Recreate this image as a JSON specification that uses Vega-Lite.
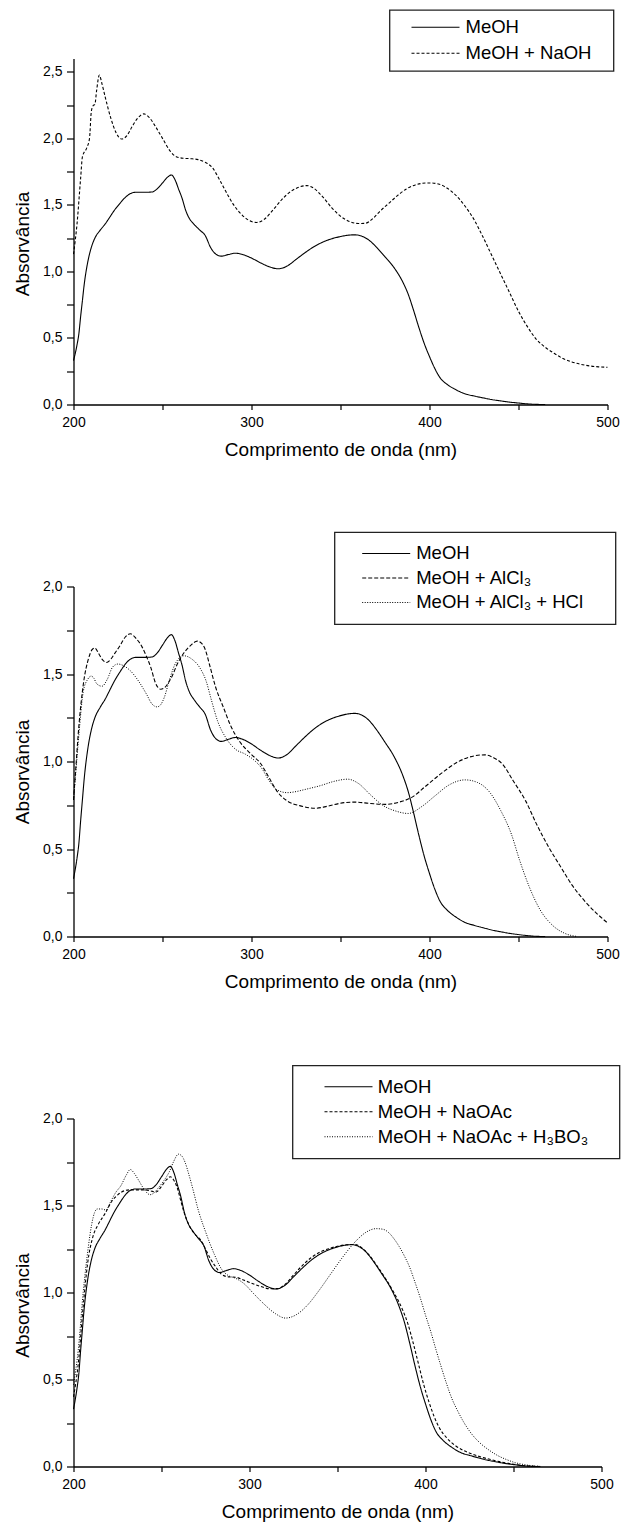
{
  "$schema": "https://vega.github.io/schema/vega-lite/v6.json",
  "background": "white",
  "padding": {"left": 13.5, "top": 8.5, "right": 2, "bottom": 2},
  "bounds": "flush",
  "spacing": 182,
  "resolve": {"scale": {"strokeDash": "independent", "x": "independent", "y": "independent"}, "legend": {"strokeDash": "independent"}},
  "config": {
    "font": "Liberation Sans",
    "view": {"stroke": null},
    "axis": {
      "domainColor": "black", "domainWidth": 1.3, "tickColor": "black", "tickWidth": 1.2,
      "labelColor": "black", "labelFont": "Liberation Sans", "labelFontSize": 14,
      "titleFont": "Liberation Sans", "titleFontSize": 19, "titleFontWeight": "normal", "titleColor": "black",
      "grid": false, "labelFlush": false, "labelOverlap": false
    },
    "legend": {
      "strokeColor": "#222", "strokeWidth": 1.3, "fillColor": "white",
      "labelFont": "Liberation Sans", "labelFontSize": 18.5, "labelColor": "black", "labelLimit": 400,
      "symbolStrokeColor": "black", "symbolStrokeWidth": 1.2, "symbolSize": 256
    },
    "line": {"color": "black", "strokeWidth": 1.1, "interpolate": "monotone"}
  },
  "datasets": {
    "meoh": [
      {"nm":200,"A":0.33,"s":"MeOH"},{"nm":202,"A":0.45,"s":"MeOH"},{"nm":203,"A":0.53,"s":"MeOH"},{"nm":204,"A":0.66,"s":"MeOH"},{"nm":205,"A":0.78,"s":"MeOH"},{"nm":206,"A":0.9,"s":"MeOH"},{"nm":208,"A":1.07,"s":"MeOH"},{"nm":210,"A":1.18,"s":"MeOH"},{"nm":212,"A":1.25,"s":"MeOH"},{"nm":215,"A":1.31,"s":"MeOH"},{"nm":218,"A":1.36,"s":"MeOH"},{"nm":220,"A":1.4,"s":"MeOH"},{"nm":223,"A":1.46,"s":"MeOH"},{"nm":226,"A":1.51,"s":"MeOH"},{"nm":229,"A":1.555,"s":"MeOH"},{"nm":232,"A":1.585,"s":"MeOH"},{"nm":235,"A":1.595,"s":"MeOH"},{"nm":240,"A":1.595,"s":"MeOH"},{"nm":244,"A":1.597,"s":"MeOH"},{"nm":247,"A":1.62,"s":"MeOH"},{"nm":250,"A":1.665,"s":"MeOH"},{"nm":253,"A":1.71,"s":"MeOH"},{"nm":255,"A":1.725,"s":"MeOH"},{"nm":257,"A":1.69,"s":"MeOH"},{"nm":259,"A":1.62,"s":"MeOH"},{"nm":261,"A":1.55,"s":"MeOH"},{"nm":263,"A":1.46,"s":"MeOH"},{"nm":265,"A":1.4,"s":"MeOH"},{"nm":268,"A":1.35,"s":"MeOH"},{"nm":271,"A":1.31,"s":"MeOH"},{"nm":274,"A":1.27,"s":"MeOH"},{"nm":277,"A":1.18,"s":"MeOH"},{"nm":280,"A":1.13,"s":"MeOH"},{"nm":283,"A":1.115,"s":"MeOH"},{"nm":287,"A":1.127,"s":"MeOH"},{"nm":291,"A":1.137,"s":"MeOH"},{"nm":295,"A":1.127,"s":"MeOH"},{"nm":300,"A":1.1,"s":"MeOH"},{"nm":305,"A":1.065,"s":"MeOH"},{"nm":310,"A":1.035,"s":"MeOH"},{"nm":315,"A":1.02,"s":"MeOH"},{"nm":320,"A":1.04,"s":"MeOH"},{"nm":325,"A":1.09,"s":"MeOH"},{"nm":330,"A":1.14,"s":"MeOH"},{"nm":335,"A":1.185,"s":"MeOH"},{"nm":340,"A":1.22,"s":"MeOH"},{"nm":345,"A":1.245,"s":"MeOH"},{"nm":350,"A":1.262,"s":"MeOH"},{"nm":355,"A":1.273,"s":"MeOH"},{"nm":358,"A":1.275,"s":"MeOH"},{"nm":362,"A":1.265,"s":"MeOH"},{"nm":366,"A":1.235,"s":"MeOH"},{"nm":370,"A":1.185,"s":"MeOH"},{"nm":375,"A":1.11,"s":"MeOH"},{"nm":380,"A":1.03,"s":"MeOH"},{"nm":385,"A":0.92,"s":"MeOH"},{"nm":388,"A":0.83,"s":"MeOH"},{"nm":391,"A":0.71,"s":"MeOH"},{"nm":394,"A":0.58,"s":"MeOH"},{"nm":397,"A":0.46,"s":"MeOH"},{"nm":400,"A":0.36,"s":"MeOH"},{"nm":403,"A":0.27,"s":"MeOH"},{"nm":406,"A":0.2,"s":"MeOH"},{"nm":410,"A":0.15,"s":"MeOH"},{"nm":415,"A":0.11,"s":"MeOH"},{"nm":420,"A":0.08,"s":"MeOH"},{"nm":425,"A":0.064,"s":"MeOH"},{"nm":430,"A":0.05,"s":"MeOH"},{"nm":435,"A":0.037,"s":"MeOH"},{"nm":440,"A":0.027,"s":"MeOH"},{"nm":445,"A":0.018,"s":"MeOH"},{"nm":450,"A":0.011,"s":"MeOH"},{"nm":455,"A":0.005,"s":"MeOH"},{"nm":460,"A":0.001,"s":"MeOH"},{"nm":465,"A":0,"s":"MeOH"}
    ],
    "naoh": [
      {"nm":200,"A":1.13,"s":"MeOH + NaOH"},{"nm":202,"A":1.36,"s":"MeOH + NaOH"},{"nm":204,"A":1.7,"s":"MeOH + NaOH"},{"nm":205,"A":1.86,"s":"MeOH + NaOH"},{"nm":207.5,"A":1.93,"s":"MeOH + NaOH"},{"nm":209,"A":2.0,"s":"MeOH + NaOH"},{"nm":210,"A":2.2,"s":"MeOH + NaOH"},{"nm":211,"A":2.245,"s":"MeOH + NaOH"},{"nm":212,"A":2.255,"s":"MeOH + NaOH"},{"nm":213,"A":2.36,"s":"MeOH + NaOH"},{"nm":214.5,"A":2.475,"s":"MeOH + NaOH"},{"nm":216,"A":2.41,"s":"MeOH + NaOH"},{"nm":218,"A":2.3,"s":"MeOH + NaOH"},{"nm":221,"A":2.15,"s":"MeOH + NaOH"},{"nm":224,"A":2.04,"s":"MeOH + NaOH"},{"nm":227,"A":1.995,"s":"MeOH + NaOH"},{"nm":230,"A":2.02,"s":"MeOH + NaOH"},{"nm":233,"A":2.09,"s":"MeOH + NaOH"},{"nm":236,"A":2.15,"s":"MeOH + NaOH"},{"nm":239.5,"A":2.184,"s":"MeOH + NaOH"},{"nm":243,"A":2.15,"s":"MeOH + NaOH"},{"nm":246,"A":2.09,"s":"MeOH + NaOH"},{"nm":250,"A":2.0,"s":"MeOH + NaOH"},{"nm":254,"A":1.91,"s":"MeOH + NaOH"},{"nm":258,"A":1.86,"s":"MeOH + NaOH"},{"nm":262,"A":1.85,"s":"MeOH + NaOH"},{"nm":266,"A":1.847,"s":"MeOH + NaOH"},{"nm":270,"A":1.84,"s":"MeOH + NaOH"},{"nm":274,"A":1.82,"s":"MeOH + NaOH"},{"nm":278,"A":1.78,"s":"MeOH + NaOH"},{"nm":282,"A":1.69,"s":"MeOH + NaOH"},{"nm":286,"A":1.59,"s":"MeOH + NaOH"},{"nm":290,"A":1.5,"s":"MeOH + NaOH"},{"nm":295,"A":1.42,"s":"MeOH + NaOH"},{"nm":300,"A":1.375,"s":"MeOH + NaOH"},{"nm":303,"A":1.368,"s":"MeOH + NaOH"},{"nm":307,"A":1.39,"s":"MeOH + NaOH"},{"nm":312,"A":1.46,"s":"MeOH + NaOH"},{"nm":317,"A":1.54,"s":"MeOH + NaOH"},{"nm":322,"A":1.6,"s":"MeOH + NaOH"},{"nm":327,"A":1.635,"s":"MeOH + NaOH"},{"nm":331,"A":1.645,"s":"MeOH + NaOH"},{"nm":335,"A":1.625,"s":"MeOH + NaOH"},{"nm":340,"A":1.56,"s":"MeOH + NaOH"},{"nm":345,"A":1.48,"s":"MeOH + NaOH"},{"nm":350,"A":1.415,"s":"MeOH + NaOH"},{"nm":355,"A":1.375,"s":"MeOH + NaOH"},{"nm":360,"A":1.36,"s":"MeOH + NaOH"},{"nm":364,"A":1.362,"s":"MeOH + NaOH"},{"nm":368,"A":1.395,"s":"MeOH + NaOH"},{"nm":372,"A":1.45,"s":"MeOH + NaOH"},{"nm":377,"A":1.51,"s":"MeOH + NaOH"},{"nm":382,"A":1.57,"s":"MeOH + NaOH"},{"nm":387,"A":1.62,"s":"MeOH + NaOH"},{"nm":392,"A":1.65,"s":"MeOH + NaOH"},{"nm":396,"A":1.662,"s":"MeOH + NaOH"},{"nm":400,"A":1.665,"s":"MeOH + NaOH"},{"nm":405,"A":1.657,"s":"MeOH + NaOH"},{"nm":410,"A":1.625,"s":"MeOH + NaOH"},{"nm":415,"A":1.57,"s":"MeOH + NaOH"},{"nm":420,"A":1.49,"s":"MeOH + NaOH"},{"nm":425,"A":1.39,"s":"MeOH + NaOH"},{"nm":430,"A":1.26,"s":"MeOH + NaOH"},{"nm":435,"A":1.12,"s":"MeOH + NaOH"},{"nm":440,"A":0.98,"s":"MeOH + NaOH"},{"nm":445,"A":0.84,"s":"MeOH + NaOH"},{"nm":450,"A":0.7,"s":"MeOH + NaOH"},{"nm":455,"A":0.585,"s":"MeOH + NaOH"},{"nm":460,"A":0.49,"s":"MeOH + NaOH"},{"nm":465,"A":0.43,"s":"MeOH + NaOH"},{"nm":470,"A":0.385,"s":"MeOH + NaOH"},{"nm":475,"A":0.345,"s":"MeOH + NaOH"},{"nm":480,"A":0.32,"s":"MeOH + NaOH"},{"nm":485,"A":0.302,"s":"MeOH + NaOH"},{"nm":490,"A":0.29,"s":"MeOH + NaOH"},{"nm":495,"A":0.283,"s":"MeOH + NaOH"},{"nm":500,"A":0.28,"s":"MeOH + NaOH"}
    ],
    "alcl3": [
      {"nm":200,"A":0.78,"s":"MeOH + AlCl₃"},{"nm":201,"A":0.92,"s":"MeOH + AlCl₃"},{"nm":203,"A":1.2,"s":"MeOH + AlCl₃"},{"nm":205.5,"A":1.44,"s":"MeOH + AlCl₃"},{"nm":208.5,"A":1.59,"s":"MeOH + AlCl₃"},{"nm":210.5,"A":1.64,"s":"MeOH + AlCl₃"},{"nm":212,"A":1.648,"s":"MeOH + AlCl₃"},{"nm":214,"A":1.62,"s":"MeOH + AlCl₃"},{"nm":216,"A":1.585,"s":"MeOH + AlCl₃"},{"nm":218.5,"A":1.566,"s":"MeOH + AlCl₃"},{"nm":221,"A":1.585,"s":"MeOH + AlCl₃"},{"nm":223,"A":1.615,"s":"MeOH + AlCl₃"},{"nm":226,"A":1.66,"s":"MeOH + AlCl₃"},{"nm":229,"A":1.71,"s":"MeOH + AlCl₃"},{"nm":232,"A":1.73,"s":"MeOH + AlCl₃"},{"nm":235,"A":1.705,"s":"MeOH + AlCl₃"},{"nm":238.5,"A":1.655,"s":"MeOH + AlCl₃"},{"nm":241,"A":1.6,"s":"MeOH + AlCl₃"},{"nm":243.5,"A":1.535,"s":"MeOH + AlCl₃"},{"nm":246,"A":1.45,"s":"MeOH + AlCl₃"},{"nm":249,"A":1.413,"s":"MeOH + AlCl₃"},{"nm":251,"A":1.42,"s":"MeOH + AlCl₃"},{"nm":253,"A":1.445,"s":"MeOH + AlCl₃"},{"nm":255.5,"A":1.49,"s":"MeOH + AlCl₃"},{"nm":258,"A":1.55,"s":"MeOH + AlCl₃"},{"nm":262,"A":1.62,"s":"MeOH + AlCl₃"},{"nm":266,"A":1.665,"s":"MeOH + AlCl₃"},{"nm":269.5,"A":1.688,"s":"MeOH + AlCl₃"},{"nm":272,"A":1.675,"s":"MeOH + AlCl₃"},{"nm":274,"A":1.64,"s":"MeOH + AlCl₃"},{"nm":276.5,"A":1.55,"s":"MeOH + AlCl₃"},{"nm":280,"A":1.42,"s":"MeOH + AlCl₃"},{"nm":284,"A":1.315,"s":"MeOH + AlCl₃"},{"nm":288.5,"A":1.2,"s":"MeOH + AlCl₃"},{"nm":294,"A":1.105,"s":"MeOH + AlCl₃"},{"nm":300,"A":1.04,"s":"MeOH + AlCl₃"},{"nm":305,"A":0.99,"s":"MeOH + AlCl₃"},{"nm":310,"A":0.905,"s":"MeOH + AlCl₃"},{"nm":314,"A":0.835,"s":"MeOH + AlCl₃"},{"nm":320,"A":0.775,"s":"MeOH + AlCl₃"},{"nm":327,"A":0.748,"s":"MeOH + AlCl₃"},{"nm":336,"A":0.733,"s":"MeOH + AlCl₃"},{"nm":343,"A":0.745,"s":"MeOH + AlCl₃"},{"nm":352,"A":0.765,"s":"MeOH + AlCl₃"},{"nm":358,"A":0.768,"s":"MeOH + AlCl₃"},{"nm":367,"A":0.76,"s":"MeOH + AlCl₃"},{"nm":375,"A":0.755,"s":"MeOH + AlCl₃"},{"nm":383,"A":0.768,"s":"MeOH + AlCl₃"},{"nm":390,"A":0.795,"s":"MeOH + AlCl₃"},{"nm":398,"A":0.86,"s":"MeOH + AlCl₃"},{"nm":407,"A":0.935,"s":"MeOH + AlCl₃"},{"nm":416,"A":0.998,"s":"MeOH + AlCl₃"},{"nm":425,"A":1.032,"s":"MeOH + AlCl₃"},{"nm":431,"A":1.038,"s":"MeOH + AlCl₃"},{"nm":436,"A":1.022,"s":"MeOH + AlCl₃"},{"nm":441,"A":0.985,"s":"MeOH + AlCl₃"},{"nm":447,"A":0.89,"s":"MeOH + AlCl₃"},{"nm":454,"A":0.775,"s":"MeOH + AlCl₃"},{"nm":460,"A":0.645,"s":"MeOH + AlCl₃"},{"nm":467,"A":0.51,"s":"MeOH + AlCl₃"},{"nm":474,"A":0.393,"s":"MeOH + AlCl₃"},{"nm":480,"A":0.295,"s":"MeOH + AlCl₃"},{"nm":487,"A":0.205,"s":"MeOH + AlCl₃"},{"nm":494,"A":0.131,"s":"MeOH + AlCl₃"},{"nm":500,"A":0.078,"s":"MeOH + AlCl₃"}
    ],
    "alcl3hcl": [
      {"nm":200,"A":0.78,"s":"MeOH + AlCl₃ + HCl"},{"nm":201,"A":0.9,"s":"MeOH + AlCl₃ + HCl"},{"nm":203,"A":1.15,"s":"MeOH + AlCl₃ + HCl"},{"nm":205.5,"A":1.4,"s":"MeOH + AlCl₃ + HCl"},{"nm":208,"A":1.47,"s":"MeOH + AlCl₃ + HCl"},{"nm":210,"A":1.488,"s":"MeOH + AlCl₃ + HCl"},{"nm":211.5,"A":1.475,"s":"MeOH + AlCl₃ + HCl"},{"nm":213,"A":1.445,"s":"MeOH + AlCl₃ + HCl"},{"nm":216,"A":1.43,"s":"MeOH + AlCl₃ + HCl"},{"nm":219,"A":1.47,"s":"MeOH + AlCl₃ + HCl"},{"nm":222,"A":1.54,"s":"MeOH + AlCl₃ + HCl"},{"nm":225,"A":1.557,"s":"MeOH + AlCl₃ + HCl"},{"nm":228,"A":1.548,"s":"MeOH + AlCl₃ + HCl"},{"nm":232,"A":1.518,"s":"MeOH + AlCl₃ + HCl"},{"nm":236.5,"A":1.46,"s":"MeOH + AlCl₃ + HCl"},{"nm":241,"A":1.385,"s":"MeOH + AlCl₃ + HCl"},{"nm":244,"A":1.33,"s":"MeOH + AlCl₃ + HCl"},{"nm":247,"A":1.312,"s":"MeOH + AlCl₃ + HCl"},{"nm":249,"A":1.325,"s":"MeOH + AlCl₃ + HCl"},{"nm":251,"A":1.366,"s":"MeOH + AlCl₃ + HCl"},{"nm":254,"A":1.47,"s":"MeOH + AlCl₃ + HCl"},{"nm":257.5,"A":1.565,"s":"MeOH + AlCl₃ + HCl"},{"nm":262,"A":1.604,"s":"MeOH + AlCl₃ + HCl"},{"nm":266.5,"A":1.585,"s":"MeOH + AlCl₃ + HCl"},{"nm":271,"A":1.535,"s":"MeOH + AlCl₃ + HCl"},{"nm":274.5,"A":1.46,"s":"MeOH + AlCl₃ + HCl"},{"nm":277.5,"A":1.35,"s":"MeOH + AlCl₃ + HCl"},{"nm":281,"A":1.23,"s":"MeOH + AlCl₃ + HCl"},{"nm":285.5,"A":1.137,"s":"MeOH + AlCl₃ + HCl"},{"nm":291,"A":1.07,"s":"MeOH + AlCl₃ + HCl"},{"nm":296.5,"A":1.042,"s":"MeOH + AlCl₃ + HCl"},{"nm":302,"A":1.003,"s":"MeOH + AlCl₃ + HCl"},{"nm":305.5,"A":0.965,"s":"MeOH + AlCl₃ + HCl"},{"nm":310,"A":0.889,"s":"MeOH + AlCl₃ + HCl"},{"nm":314,"A":0.84,"s":"MeOH + AlCl₃ + HCl"},{"nm":320,"A":0.822,"s":"MeOH + AlCl₃ + HCl"},{"nm":325,"A":0.828,"s":"MeOH + AlCl₃ + HCl"},{"nm":330,"A":0.84,"s":"MeOH + AlCl₃ + HCl"},{"nm":338,"A":0.86,"s":"MeOH + AlCl₃ + HCl"},{"nm":347,"A":0.888,"s":"MeOH + AlCl₃ + HCl"},{"nm":354,"A":0.899,"s":"MeOH + AlCl₃ + HCl"},{"nm":360,"A":0.875,"s":"MeOH + AlCl₃ + HCl"},{"nm":367,"A":0.808,"s":"MeOH + AlCl₃ + HCl"},{"nm":374,"A":0.748,"s":"MeOH + AlCl₃ + HCl"},{"nm":381,"A":0.717,"s":"MeOH + AlCl₃ + HCl"},{"nm":388,"A":0.703,"s":"MeOH + AlCl₃ + HCl"},{"nm":396,"A":0.745,"s":"MeOH + AlCl₃ + HCl"},{"nm":403,"A":0.803,"s":"MeOH + AlCl₃ + HCl"},{"nm":411,"A":0.866,"s":"MeOH + AlCl₃ + HCl"},{"nm":420,"A":0.895,"s":"MeOH + AlCl₃ + HCl"},{"nm":427,"A":0.88,"s":"MeOH + AlCl₃ + HCl"},{"nm":434,"A":0.822,"s":"MeOH + AlCl₃ + HCl"},{"nm":440,"A":0.72,"s":"MeOH + AlCl₃ + HCl"},{"nm":446,"A":0.585,"s":"MeOH + AlCl₃ + HCl"},{"nm":450.5,"A":0.44,"s":"MeOH + AlCl₃ + HCl"},{"nm":456,"A":0.285,"s":"MeOH + AlCl₃ + HCl"},{"nm":462,"A":0.155,"s":"MeOH + AlCl₃ + HCl"},{"nm":469,"A":0.065,"s":"MeOH + AlCl₃ + HCl"},{"nm":476,"A":0.018,"s":"MeOH + AlCl₃ + HCl"},{"nm":483,"A":0,"s":"MeOH + AlCl₃ + HCl"}
    ],
    "naoac": [
      {"nm":200,"A":0.4,"s":"MeOH + NaOAc"},{"nm":202.7,"A":0.59,"s":"MeOH + NaOAc"},{"nm":205.5,"A":0.92,"s":"MeOH + NaOAc"},{"nm":208,"A":1.166,"s":"MeOH + NaOAc"},{"nm":211,"A":1.32,"s":"MeOH + NaOAc"},{"nm":214,"A":1.39,"s":"MeOH + NaOAc"},{"nm":218,"A":1.455,"s":"MeOH + NaOAc"},{"nm":221.5,"A":1.52,"s":"MeOH + NaOAc"},{"nm":225,"A":1.56,"s":"MeOH + NaOAc"},{"nm":229,"A":1.585,"s":"MeOH + NaOAc"},{"nm":232,"A":1.59,"s":"MeOH + NaOAc"},{"nm":240,"A":1.59,"s":"MeOH + NaOAc"},{"nm":244,"A":1.583,"s":"MeOH + NaOAc"},{"nm":247,"A":1.578,"s":"MeOH + NaOAc"},{"nm":250,"A":1.61,"s":"MeOH + NaOAc"},{"nm":253,"A":1.65,"s":"MeOH + NaOAc"},{"nm":255,"A":1.665,"s":"MeOH + NaOAc"},{"nm":257,"A":1.645,"s":"MeOH + NaOAc"},{"nm":259,"A":1.6,"s":"MeOH + NaOAc"},{"nm":261,"A":1.525,"s":"MeOH + NaOAc"},{"nm":263,"A":1.455,"s":"MeOH + NaOAc"},{"nm":266,"A":1.38,"s":"MeOH + NaOAc"},{"nm":269,"A":1.335,"s":"MeOH + NaOAc"},{"nm":272,"A":1.305,"s":"MeOH + NaOAc"},{"nm":275,"A":1.25,"s":"MeOH + NaOAc"},{"nm":278,"A":1.19,"s":"MeOH + NaOAc"},{"nm":281,"A":1.145,"s":"MeOH + NaOAc"},{"nm":284,"A":1.105,"s":"MeOH + NaOAc"},{"nm":288,"A":1.09,"s":"MeOH + NaOAc"},{"nm":292,"A":1.088,"s":"MeOH + NaOAc"},{"nm":297,"A":1.07,"s":"MeOH + NaOAc"},{"nm":302,"A":1.05,"s":"MeOH + NaOAc"},{"nm":307,"A":1.033,"s":"MeOH + NaOAc"},{"nm":311,"A":1.022,"s":"MeOH + NaOAc"},{"nm":316,"A":1.022,"s":"MeOH + NaOAc"},{"nm":320,"A":1.045,"s":"MeOH + NaOAc"},{"nm":325,"A":1.1,"s":"MeOH + NaOAc"},{"nm":330,"A":1.155,"s":"MeOH + NaOAc"},{"nm":335,"A":1.2,"s":"MeOH + NaOAc"},{"nm":340,"A":1.232,"s":"MeOH + NaOAc"},{"nm":345,"A":1.252,"s":"MeOH + NaOAc"},{"nm":350,"A":1.266,"s":"MeOH + NaOAc"},{"nm":355,"A":1.274,"s":"MeOH + NaOAc"},{"nm":360,"A":1.276,"s":"MeOH + NaOAc"},{"nm":364,"A":1.255,"s":"MeOH + NaOAc"},{"nm":368,"A":1.215,"s":"MeOH + NaOAc"},{"nm":372,"A":1.16,"s":"MeOH + NaOAc"},{"nm":377,"A":1.085,"s":"MeOH + NaOAc"},{"nm":382,"A":1.0,"s":"MeOH + NaOAc"},{"nm":387,"A":0.9,"s":"MeOH + NaOAc"},{"nm":390,"A":0.82,"s":"MeOH + NaOAc"},{"nm":393,"A":0.71,"s":"MeOH + NaOAc"},{"nm":396,"A":0.59,"s":"MeOH + NaOAc"},{"nm":399,"A":0.47,"s":"MeOH + NaOAc"},{"nm":402,"A":0.37,"s":"MeOH + NaOAc"},{"nm":405,"A":0.285,"s":"MeOH + NaOAc"},{"nm":408,"A":0.22,"s":"MeOH + NaOAc"},{"nm":412,"A":0.165,"s":"MeOH + NaOAc"},{"nm":417,"A":0.12,"s":"MeOH + NaOAc"},{"nm":422,"A":0.09,"s":"MeOH + NaOAc"},{"nm":427,"A":0.07,"s":"MeOH + NaOAc"},{"nm":432,"A":0.053,"s":"MeOH + NaOAc"},{"nm":437,"A":0.04,"s":"MeOH + NaOAc"},{"nm":442,"A":0.028,"s":"MeOH + NaOAc"},{"nm":447,"A":0.018,"s":"MeOH + NaOAc"},{"nm":452,"A":0.01,"s":"MeOH + NaOAc"},{"nm":457,"A":0.004,"s":"MeOH + NaOAc"},{"nm":462,"A":0.001,"s":"MeOH + NaOAc"},{"nm":466,"A":0,"s":"MeOH + NaOAc"}
    ],
    "h3bo3": [
      {"nm":200,"A":0.47,"s":"MeOH + NaOAc + H₃BO₃"},{"nm":202.7,"A":0.67,"s":"MeOH + NaOAc + H₃BO₃"},{"nm":205.5,"A":1.0,"s":"MeOH + NaOAc + H₃BO₃"},{"nm":208.4,"A":1.26,"s":"MeOH + NaOAc + H₃BO₃"},{"nm":210.3,"A":1.39,"s":"MeOH + NaOAc + H₃BO₃"},{"nm":212,"A":1.46,"s":"MeOH + NaOAc + H₃BO₃"},{"nm":213.5,"A":1.48,"s":"MeOH + NaOAc + H₃BO₃"},{"nm":216,"A":1.48,"s":"MeOH + NaOAc + H₃BO₃"},{"nm":218.5,"A":1.474,"s":"MeOH + NaOAc + H₃BO₃"},{"nm":221,"A":1.52,"s":"MeOH + NaOAc + H₃BO₃"},{"nm":224,"A":1.575,"s":"MeOH + NaOAc + H₃BO₃"},{"nm":227,"A":1.615,"s":"MeOH + NaOAc + H₃BO₃"},{"nm":230,"A":1.675,"s":"MeOH + NaOAc + H₃BO₃"},{"nm":232.3,"A":1.707,"s":"MeOH + NaOAc + H₃BO₃"},{"nm":234.5,"A":1.685,"s":"MeOH + NaOAc + H₃BO₃"},{"nm":237,"A":1.645,"s":"MeOH + NaOAc + H₃BO₃"},{"nm":240,"A":1.595,"s":"MeOH + NaOAc + H₃BO₃"},{"nm":243.5,"A":1.562,"s":"MeOH + NaOAc + H₃BO₃"},{"nm":246,"A":1.575,"s":"MeOH + NaOAc + H₃BO₃"},{"nm":248.5,"A":1.605,"s":"MeOH + NaOAc + H₃BO₃"},{"nm":251.5,"A":1.645,"s":"MeOH + NaOAc + H₃BO₃"},{"nm":254.5,"A":1.695,"s":"MeOH + NaOAc + H₃BO₃"},{"nm":257,"A":1.755,"s":"MeOH + NaOAc + H₃BO₃"},{"nm":259.6,"A":1.795,"s":"MeOH + NaOAc + H₃BO₃"},{"nm":261.5,"A":1.785,"s":"MeOH + NaOAc + H₃BO₃"},{"nm":263.5,"A":1.745,"s":"MeOH + NaOAc + H₃BO₃"},{"nm":265.5,"A":1.68,"s":"MeOH + NaOAc + H₃BO₃"},{"nm":267.5,"A":1.607,"s":"MeOH + NaOAc + H₃BO₃"},{"nm":271,"A":1.47,"s":"MeOH + NaOAc + H₃BO₃"},{"nm":275,"A":1.35,"s":"MeOH + NaOAc + H₃BO₃"},{"nm":280,"A":1.22,"s":"MeOH + NaOAc + H₃BO₃"},{"nm":284.4,"A":1.13,"s":"MeOH + NaOAc + H₃BO₃"},{"nm":288,"A":1.097,"s":"MeOH + NaOAc + H₃BO₃"},{"nm":292,"A":1.082,"s":"MeOH + NaOAc + H₃BO₃"},{"nm":297,"A":1.05,"s":"MeOH + NaOAc + H₃BO₃"},{"nm":302.4,"A":0.993,"s":"MeOH + NaOAc + H₃BO₃"},{"nm":308,"A":0.936,"s":"MeOH + NaOAc + H₃BO₃"},{"nm":314.8,"A":0.878,"s":"MeOH + NaOAc + H₃BO₃"},{"nm":320.4,"A":0.853,"s":"MeOH + NaOAc + H₃BO₃"},{"nm":326,"A":0.869,"s":"MeOH + NaOAc + H₃BO₃"},{"nm":332.8,"A":0.926,"s":"MeOH + NaOAc + H₃BO₃"},{"nm":339.6,"A":1.013,"s":"MeOH + NaOAc + H₃BO₃"},{"nm":346.3,"A":1.109,"s":"MeOH + NaOAc + H₃BO₃"},{"nm":353,"A":1.204,"s":"MeOH + NaOAc + H₃BO₃"},{"nm":360,"A":1.291,"s":"MeOH + NaOAc + H₃BO₃"},{"nm":366.5,"A":1.348,"s":"MeOH + NaOAc + H₃BO₃"},{"nm":372,"A":1.367,"s":"MeOH + NaOAc + H₃BO₃"},{"nm":376,"A":1.363,"s":"MeOH + NaOAc + H₃BO₃"},{"nm":379,"A":1.345,"s":"MeOH + NaOAc + H₃BO₃"},{"nm":382,"A":1.31,"s":"MeOH + NaOAc + H₃BO₃"},{"nm":385,"A":1.265,"s":"MeOH + NaOAc + H₃BO₃"},{"nm":388,"A":1.21,"s":"MeOH + NaOAc + H₃BO₃"},{"nm":391,"A":1.145,"s":"MeOH + NaOAc + H₃BO₃"},{"nm":394,"A":1.06,"s":"MeOH + NaOAc + H₃BO₃"},{"nm":397,"A":0.97,"s":"MeOH + NaOAc + H₃BO₃"},{"nm":400,"A":0.87,"s":"MeOH + NaOAc + H₃BO₃"},{"nm":403,"A":0.775,"s":"MeOH + NaOAc + H₃BO₃"},{"nm":406,"A":0.67,"s":"MeOH + NaOAc + H₃BO₃"},{"nm":409,"A":0.57,"s":"MeOH + NaOAc + H₃BO₃"},{"nm":412,"A":0.475,"s":"MeOH + NaOAc + H₃BO₃"},{"nm":415,"A":0.39,"s":"MeOH + NaOAc + H₃BO₃"},{"nm":418,"A":0.325,"s":"MeOH + NaOAc + H₃BO₃"},{"nm":422,"A":0.25,"s":"MeOH + NaOAc + H₃BO₃"},{"nm":426,"A":0.19,"s":"MeOH + NaOAc + H₃BO₃"},{"nm":431,"A":0.135,"s":"MeOH + NaOAc + H₃BO₃"},{"nm":436,"A":0.095,"s":"MeOH + NaOAc + H₃BO₃"},{"nm":441,"A":0.063,"s":"MeOH + NaOAc + H₃BO₃"},{"nm":446,"A":0.04,"s":"MeOH + NaOAc + H₃BO₃"},{"nm":451,"A":0.022,"s":"MeOH + NaOAc + H₃BO₃"},{"nm":456,"A":0.011,"s":"MeOH + NaOAc + H₃BO₃"},{"nm":461,"A":0.004,"s":"MeOH + NaOAc + H₃BO₃"},{"nm":466,"A":0,"s":"MeOH + NaOAc + H₃BO₃"}
    ]
  },
  "vconcat": [
    {
      "width": 534, "height": 346,
      "encoding": {
        "x": {"field": "nm", "type": "quantitative", "scale": {"domain": [200, 500], "nice": false, "zero": false},
              "axis": {"title": "Comprimento de onda (nm)", "values": [200,250,300,350,400,450,500], "labelExpr": "datum.value % 100 == 0 ? datum.label : ''", "tickSize": 5, "labelPadding": 6, "titlePadding": 11}},
        "y": {"field": "A", "type": "quantitative", "scale": {"domain": [0, 2.6], "nice": false},
              "axis": {"title": "Absorvância", "values": [0,0.25,0.5,0.75,1,1.25,1.5,1.75,2,2.25,2.5], "labelExpr": "datum.value % 0.5 == 0 ? replace(format(datum.value, '.1f'), '.', ',') : ''", "tickSize": 7, "labelPadding": 4.5, "titlePadding": 10, "titleY": 185}},
        "strokeDash": {"field": "s", "type": "nominal", "scale": {"domain": ["MeOH", "MeOH + NaOH"], "range": [[1, 0], [3, 2]]},
              "legend": {"title": null, "orient": "none", "legendX": 316, "legendY": -48.5, "symbolType": "M-4.75,0M-3,0H3", "symbolOffset": 28.75, "labelOffset": 20.75, "padding": 8, "rowPadding": 7, "labelExpr": "datum.label + '\u00a0\u00a0\u2009\u200b'"}}
      },
      "layer": [
        {"data": {"name": "meoh"}, "mark": {"type": "line"}},
        {"data": {"name": "naoh"}, "mark": {"type": "line"}}
      ]
    },
    {
      "width": 534, "height": 350,
      "encoding": {
        "x": {"field": "nm", "type": "quantitative", "scale": {"domain": [200, 500], "nice": false, "zero": false},
              "axis": {"title": "Comprimento de onda (nm)", "values": [200,250,300,350,400,450,500], "labelExpr": "datum.value % 100 == 0 ? datum.label : ''", "tickSize": 5, "labelPadding": 6, "titlePadding": 11}},
        "y": {"field": "A", "type": "quantitative", "scale": {"domain": [0, 2], "nice": false},
              "axis": {"title": "Absorvância", "values": [0,0.25,0.5,0.75,1,1.25,1.5,1.75,2], "labelExpr": "datum.value % 0.5 == 0 ? replace(format(datum.value, '.1f'), '.', ',') : ''", "tickSize": 7, "labelPadding": 4.5, "titlePadding": 10, "titleY": 185}},
        "strokeDash": {"field": "s", "type": "nominal", "scale": {"domain": ["MeOH", "MeOH + AlCl₃", "MeOH + AlCl₃ + HCl"], "range": [[1, 0], [4, 2], [1, 1.5]]},
              "legend": {"title": null, "orient": "none", "legendX": 261, "legendY": -54.3, "symbolType": "M-4.9625,0M-3,0H3", "symbolOffset": 30.45, "labelOffset": 20.75, "padding": 12, "rowPadding": 5.5, "labelExpr": "datum.label + '\u00a0\u00a0\u00a0\u2009\u200b'"}}
      },
      "layer": [
        {"data": {"name": "meoh"}, "mark": {"type": "line"}},
        {"data": {"name": "alcl3"}, "mark": {"type": "line"}},
        {"data": {"name": "alcl3hcl"}, "mark": {"type": "line", "strokeWidth": 1}}
      ]
    },
    {
      "width": 528, "height": 348,
      "encoding": {
        "x": {"field": "nm", "type": "quantitative", "scale": {"domain": [200, 500], "nice": false, "zero": false},
              "axis": {"title": "Comprimento de onda (nm)", "values": [200,250,300,350,400,450,500], "labelExpr": "datum.value % 100 == 0 ? datum.label : ''", "tickSize": 5, "labelPadding": 6, "titlePadding": 11}},
        "y": {"field": "A", "type": "quantitative", "scale": {"domain": [0, 2], "nice": false},
              "axis": {"title": "Absorvância", "values": [0,0.25,0.5,0.75,1,1.25,1.5,1.75,2], "labelExpr": "datum.value % 0.5 == 0 ? replace(format(datum.value, '.1f'), '.', ',') : ''", "tickSize": 7, "labelPadding": 4.5, "titlePadding": 10, "titleY": 186.5}},
        "strokeDash": {"field": "s", "type": "nominal", "scale": {"domain": ["MeOH", "MeOH + NaOAc", "MeOH + NaOAc + H₃BO₃"], "range": [[1, 0], [3, 2], [1, 1.5]]},
              "legend": {"title": null, "orient": "none", "legendX": 219, "legendY": -53, "symbolType": "M-5.5,0M-3,0H3", "symbolOffset": 34.75, "labelOffset": 20.05, "padding": 12, "rowPadding": 6, "labelExpr": "datum.label + '\u00a0\u00a0\u00a0\u2009\u200b'"}}
      },
      "layer": [
        {"data": {"name": "meoh"}, "mark": {"type": "line"}},
        {"data": {"name": "naoac"}, "mark": {"type": "line"}},
        {"data": {"name": "h3bo3"}, "mark": {"type": "line", "strokeWidth": 1}}
      ]
    }
  ]
}
